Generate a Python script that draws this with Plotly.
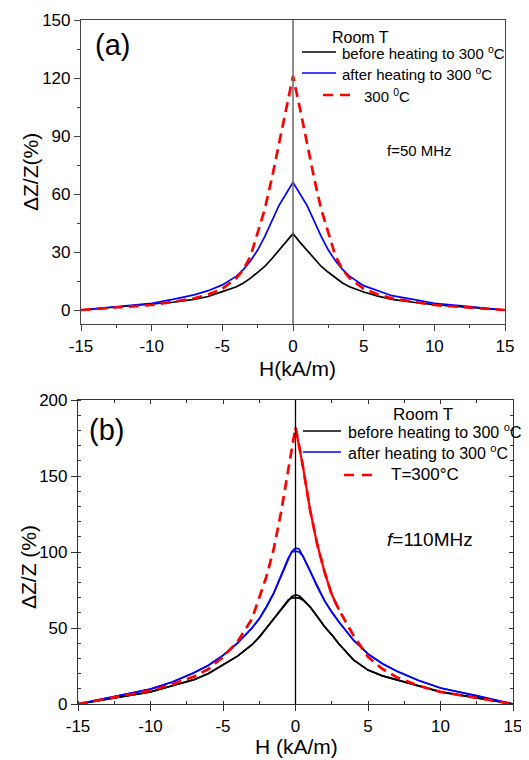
import plotly.graph_objects as go
import numpy as np

# page body has an 8px margin, so the figure is drawn 8px in from the top-left
OFF = 8
W, HT = 529 - OFF, 760 - OFF
FONT = "Arial, Liberation Sans, sans-serif"

def px(x):
    return (x - OFF) / W

def py(y):
    return 1 - (y - OFF) / HT

# ---- panel (a), f = 50 MHz ----
H_a = [-15, -12.5, -10, -8.5, -7, -6, -5, -4, -3.5, -3, -2.5, -2, -1.5, -1, -0.5, 0,
       0.5, 1, 1.5, 2, 2.5, 3, 3.5, 4, 5, 6, 7, 8.5, 10, 12.5, 15]
black_a = [0, 1.4, 2.8, 4, 5.5, 7, 9.5, 12, 14, 16.5, 19.5, 22.5, 26.5, 31, 35, 39.5,
           35, 31, 26.5, 22.5, 19.5, 16.5, 14, 12, 9.3, 7.2, 5.5, 4, 2.8, 1.4, 0]
blue_a = [0, 1.8, 3.5, 5.5, 7.8, 10, 13, 17.5, 21, 25.5, 31, 38, 46, 54, 60, 66,
          60, 54, 46, 38, 31, 25.5, 21, 17.5, 12.6, 9.8, 7.4, 5.5, 3.5, 1.8, 0]
red_a = [0, 1.2, 2.6, 4.2, 6, 8, 11, 16.5, 21, 28, 40, 52, 68, 86, 104, 121,
         104, 86, 68, 52, 40, 28, 21, 16.5, 11, 8, 6, 4.2, 2.6, 1.2, 0]

# ---- panel (b), f = 110 MHz (two field sweeps for black / blue) ----
H_b = [-15, -12.5, -10, -8.5, -7, -6, -5, -4, -3, -2.5, -2, -1.5, -1, -0.5, -0.25, 0,
       0.25, 0.5, 1, 1.5, 2, 2.5, 3, 4, 5, 6, 7, 8.5, 10, 12.5, 15]
black_b1 = [0, 4, 8, 12, 16, 20, 25.5, 31.5, 39, 44, 50, 56, 62.5, 68, 70.8, 71.8,
            71.2, 69, 64, 57.5, 51, 45.5, 39.5, 29, 22.3, 18.5, 16, 12, 8, 4, 0]
black_b2 = [0, 4, 8, 12, 16, 20, 25.5, 31.5, 39, 44, 50, 56, 62.5, 68.5, 69.8, 70,
            69.8, 68.5, 64, 57.5, 51, 45.5, 39.5, 29, 22.3, 18.5, 16, 12, 8, 4, 0]
blue_b1 = [0, 5, 9.8, 14.5, 20.5, 25.5, 32, 40, 50, 56, 64, 73, 84, 95, 100.5, 102.5,
           102, 97.5, 87.5, 77, 68, 60.5, 54, 42, 33, 26.5, 21.5, 15.5, 10.5, 5.5, 0]
blue_b2 = [0, 5, 9.8, 14.5, 20.5, 25.5, 32, 40, 50, 56, 64, 73, 84, 96, 100, 100.5,
           100, 97.5, 87.5, 77, 68, 60.5, 54, 42, 33, 26.5, 21.5, 15.5, 10.5, 5.5, 0]
red_b = [0, 4.5, 8.8, 13, 18, 23, 31, 41, 56, 70, 84, 102, 126, 154, 167, 182,
         170, 157, 128, 105, 87, 72, 62, 45, 31, 23, 17.5, 12, 8, 4, 0]

tick_a_y = [0, 30, 60, 90, 120, 150]
tick_b_y = [0, 50, 100, 150, 200]
tick_x = [-15, -10, -5, 0, 5, 10, 15]
tick_x_txt = [str(v) for v in tick_x]   # plain hyphen like the original

fig = go.Figure()

lw = 1.7
fig.add_trace(go.Scatter(x=H_a, y=black_a, mode="lines", line=dict(color="black", width=lw),
                         xaxis="x", yaxis="y", showlegend=False))
fig.add_trace(go.Scatter(x=H_a, y=blue_a, mode="lines", line=dict(color="#0000ff", width=lw),
                         xaxis="x", yaxis="y", showlegend=False))
fig.add_trace(go.Scatter(x=H_a, y=red_a, mode="lines",
                         line=dict(color="#ff0000", width=2.7, dash="10px,6px"),
                         xaxis="x", yaxis="y", showlegend=False))

for yy in (black_b1, black_b2):
    fig.add_trace(go.Scatter(x=H_b, y=yy, mode="lines", line=dict(color="black", width=lw),
                             xaxis="x2", yaxis="y2", showlegend=False))
for yy in (blue_b1, blue_b2):
    fig.add_trace(go.Scatter(x=H_b, y=yy, mode="lines", line=dict(color="#0000ff", width=lw),
                             xaxis="x2", yaxis="y2", showlegend=False))
fig.add_trace(go.Scatter(x=H_b, y=red_b, mode="lines",
                         line=dict(color="#ff0000", width=2.7, dash="10px,6px"),
                         xaxis="x2", yaxis="y2", showlegend=False))
# near the peak the two red sweeps overlap and look solid on the right side
hb = np.array(H_b)
mask = (hb >= 0) & (hb <= 3)
fig.add_trace(go.Scatter(x=hb[mask], y=np.array(red_b)[mask], mode="lines",
                         line=dict(color="#ff0000", width=2.2),
                         xaxis="x2", yaxis="y2", showlegend=False))

tickfont = dict(family=FONT, size=17, color="black")

common = dict(showgrid=False, zeroline=False, showline=True, tickfont=tickfont,
              ticklen=6, tickwidth=1, automargin=False)

fig.update_layout(
    width=W, height=HT,
    margin=dict(l=0, r=0, t=0, b=0),
    paper_bgcolor="white", plot_bgcolor="white",
    font=dict(family=FONT, color="black"),
    xaxis=dict(domain=[px(81), px(505)], anchor="y", range=[-15, 15],
               tickvals=tick_x, ticktext=tick_x_txt,
               ticks="outside", linecolor="#444", linewidth=1.2, tickcolor="#444", mirror=True,
               minor=dict(dtick=2.5, ticks="outside", ticklen=3, tickcolor="#444"), **common),
    yaxis=dict(domain=[py(324), py(20)], anchor="x", range=[-7.24, 150], tickvals=tick_a_y,
               ticks="outside", linecolor="#444", linewidth=1.2, tickcolor="#444", mirror=True,
               minor=dict(tick0=15, dtick=30, ticks="outside", ticklen=3, tickcolor="#444"),
               **common),
    xaxis2=dict(domain=[px(78), px(513)], anchor="y2", range=[-15, 15],
                tickvals=tick_x, ticktext=tick_x_txt,
                ticks="outside", linecolor="#333", linewidth=1.2, tickcolor="#333", mirror=True,
                minor=dict(tick0=-15, dtick=2.5, ticks="inside", ticklen=3, tickcolor="#333"),
                **common),
    yaxis2=dict(domain=[py(704), py(400)], anchor="x2", range=[0, 200], tickvals=tick_b_y,
                ticks="outside", linecolor="#333", linewidth=1.2, tickcolor="#333", mirror=True,
                minor=dict(tick0=0, dtick=10, ticks="inside", ticklen=3, tickcolor="#333"),
                **common),
    xaxis3=dict(overlaying="x2", anchor="y2", side="top", range=[-15, 15], tickvals=tick_x,
                ticks="inside", ticklen=4, tickcolor="#333", showticklabels=False,
                showgrid=False, zeroline=False, showline=False,
                minor=dict(tick0=-15, dtick=2.5, ticks="inside", ticklen=3, tickcolor="#333")),
    yaxis3=dict(overlaying="y2", anchor="x2", side="right", range=[0, 200], tickvals=tick_b_y,
                ticks="inside", ticklen=4, tickcolor="#333", showticklabels=False,
                showgrid=False, zeroline=False, showline=False,
                minor=dict(tick0=0, dtick=10, ticks="inside", ticklen=3, tickcolor="#333")),
)

# empty traces so the mirror tick axes of panel (b) get drawn
fig.add_trace(go.Scatter(x=[], y=[], xaxis="x3", yaxis="y2", showlegend=False))
fig.add_trace(go.Scatter(x=[], y=[], xaxis="x2", yaxis="y3", showlegend=False))

shapes = [
    dict(type="line", xref="x", yref="y domain", x0=0, x1=0, y0=0, y1=1,
         line=dict(color="#666", width=1.5)),
    dict(type="line", xref="x2", yref="y2 domain", x0=0, x1=0, y0=0, y1=1,
         line=dict(color="black", width=1.3)),
]

def leg_line(x0, x1, y, color, dash=None, width=1.7):
    d = dict(type="line", xref="paper", yref="paper", x0=px(x0), x1=px(x1), y0=py(y), y1=py(y),
             line=dict(color=color, width=width))
    if dash:
        d["line"]["dash"] = dash
    return d

shapes += [
    leg_line(302, 336, 52, "black"),
    leg_line(302, 336, 73, "#0000ff"),
    leg_line(323, 350, 95, "#ff0000", "10px,7px", 2.7),
    leg_line(303, 341, 431, "black"),
    leg_line(303, 341, 452, "#0000ff"),
    leg_line(344, 372, 475, "#ff0000", "10px,8px", 2.7),
]
fig.update_layout(shapes=shapes)

def txt(x, y, s, size=15, xanchor="left", angle=0):
    return dict(x=px(x), y=py(y), xref="paper", yref="paper", text=s, showarrow=False,
                xanchor=xanchor, yanchor="middle", textangle=angle,
                font=dict(family=FONT, size=size, color="black"))

annotations = [
    txt(112, 45, "(a)", 29, "center"),
    txt(360, 37, "Room T", 16, "center"),
    txt(340, 52, "before heating to 300 <sup>o</sup>C", 15),
    txt(340, 73, "after heating to 300 <sup>o</sup>C", 15),
    txt(362, 95, "300 <sup>0</sup>C", 15),
    txt(419, 150, "f=50 MHz", 15, "center"),
    txt(30, 172, "ΔZ/Z(%)", 21, "center", -90),
    txt(297, 368, "H(kA/m)", 21, "center"),
    txt(106, 430, "(b)", 29, "center"),
    txt(423, 414, "Room T", 17, "center"),
    txt(346, 431, "before heating to 300 <sup>o</sup>C", 16),
    txt(346, 452, "after heating to 300 <sup>o</sup>C", 16),
    txt(389, 475, "T=300°C", 17),
    txt(385, 539, "<i>f</i>=110MHz", 19),
    txt(28, 567, "ΔZ/Z (%)", 21, "center", -90),
    txt(296, 746, "H (kA/m)", 21, "center"),
]
fig.update_layout(annotations=annotations)

fig.write_html("out.html")
